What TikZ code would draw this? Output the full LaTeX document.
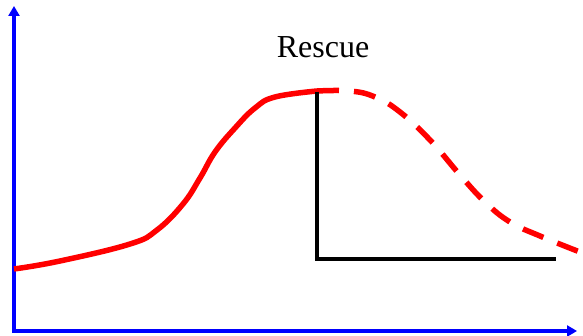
\documentclass[tikz,border=0pt]{standalone}
\usepackage{fontspec}
\setmainfont{Liberation Serif}
\usetikzlibrary{arrows.meta, positioning}

\begin{document}
\begin{tikzpicture}[x=1pt, y=-1pt,
    axis/.style={blue, line width=4pt, -{Triangle[length=10pt, width=11pt]}},
    decline/.style={red, line width=5.5pt, line join=round},
    rescueline/.style={black, line width=4pt}]
  \useasboundingbox (0,0) rectangle (583,336);
  % axes
  \coordinate (origin) at (14,331);
  \coordinate (ytop) at (14,6);
  \coordinate (xend) at (577,331);
  \draw[axis] (origin) -- (ytop);
  \draw[axis] ([xshift=-2pt]origin) -- (xend);
  % curve before and after the rescue point
  \coordinate (peak) at (317,91);
  \draw[decline] plot[smooth, tension=0.7] coordinates {(14,269) (60,261) (130,244) (157,230) (183,204) (200,178) (215,152) (235,128) (255,108) (275,97) (317,91)};
  \draw[decline, dash pattern=on 22pt off 15pt] plot[smooth, tension=0.7] coordinates {(317,91) (350,91) (375,97) (400,112) (430,140) (460,175) (485,202) (510,222) (540,236) (585,254)};
  % rescue bracket
  \coordinate (corner) at (317,259);
  \coordinate (rescueend) at (556,259);
  \draw[rescueline] ([yshift=-1pt]peak) -- (corner) -- (rescueend);
  \node[font=\fontsize{32}{38}\selectfont, inner sep=0pt] (rescue) at (323,47) {Rescue};
\end{tikzpicture}
\end{document}
